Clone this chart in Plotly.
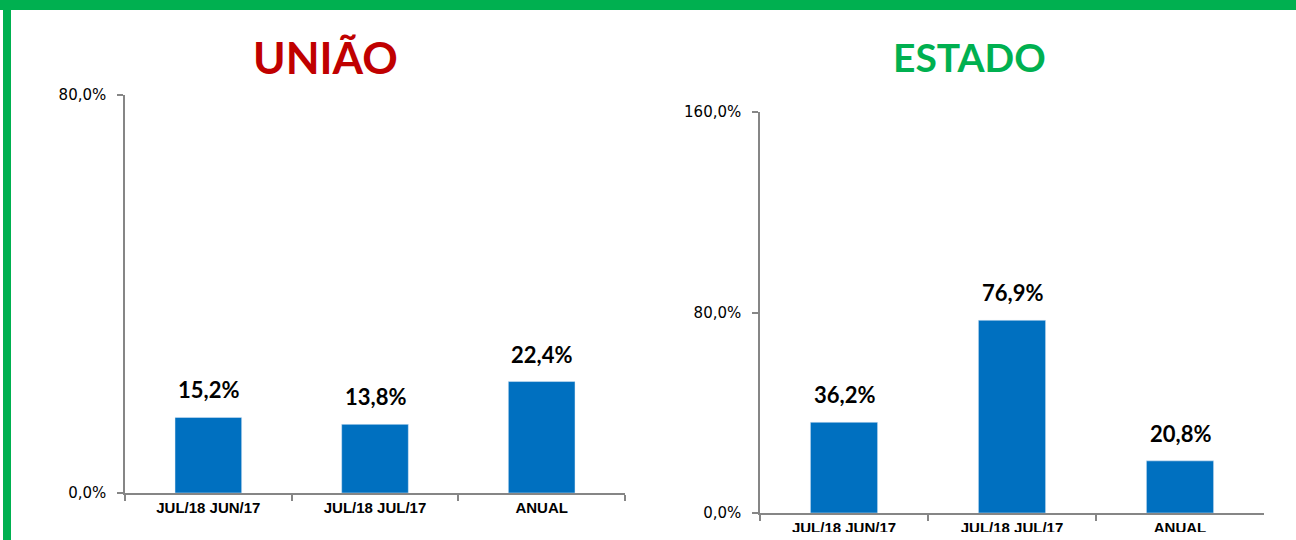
import plotly.graph_objects as go

categories = ["JUL/18 JUN/17", "JUL/18 JUL/17", "ANUAL"]
uniao_values = [15.2, 13.8, 22.4]
estado_values = [36.2, 76.9, 20.8]
uniao_ticks = [0, 80]
estado_ticks = [0, 80, 160]

BAR = "#0070C0"
AXIS = "#868686"
GREEN = "#00B050"
RED = "#C00000"
FONT = "Lato"

def fmt(v):
    return f"{v:.1f}".replace(".", ",") + "%"

fig = go.Figure()
fig.add_trace(go.Bar(x=categories, y=uniao_values, marker_color=BAR, width=0.4,
                     xaxis="x", yaxis="y", showlegend=False, hoverinfo="skip"))
fig.add_trace(go.Bar(x=categories, y=estado_values, marker_color=BAR, width=0.4,
                     xaxis="x2", yaxis="y2", showlegend=False, hoverinfo="skip"))

annotations = []
for c, v in zip(categories, uniao_values):
    annotations.append(dict(x=c, y=v, xref="x", yref="y", text=fmt(v), showarrow=False,
                            yanchor="bottom", yshift=12,
                            font=dict(family=FONT, size=22, color="#000000", weight="bold")))
for c, v in zip(categories, estado_values):
    annotations.append(dict(x=c, y=v, xref="x2", yref="y2", text=fmt(v), showarrow=False,
                            yanchor="bottom", yshift=12,
                            font=dict(family=FONT, size=22, color="#000000", weight="bold")))

annotations.append(dict(x=325/1296, y=(540-57)/540, xref="paper", yref="paper", text="UNIÃO",
                        showarrow=False, xanchor="center", yanchor="middle",
                        font=dict(family=FONT, size=44, color=RED, weight="bold")))
annotations.append(dict(x=969/1296, y=(540-57)/540, xref="paper", yref="paper", text="ESTADO",
                        showarrow=False, xanchor="center", yanchor="middle",
                        font=dict(family=FONT, size=39, color=GREEN, weight="bold")))
annotations.append(dict(x=660/1296, y=1, xref="paper", yref="paper", text="EM %",
                        showarrow=False, xanchor="center", yanchor="bottom", yshift=-6,
                        font=dict(family=FONT, size=18, color="#000000", weight="bold")))

xaxis_common = dict(type="category", showline=True, linecolor=AXIS, linewidth=1.5,
                    ticks="outside", tickson="boundaries", ticklen=6, tickcolor=AXIS,
                    tickwidth=1.5, showgrid=False, zeroline=False, automargin=False,
                    tickfont=dict(family="Liberation Sans", size=15, color="#000000", weight="bold"))
yaxis_common = dict(showline=True, linecolor=AXIS, linewidth=1.5, ticks="outside",
                    ticklen=6, tickcolor=AXIS, tickwidth=1.5, showgrid=False, zeroline=False,
                    ticklabelstandoff=8, automargin=False,
                    tickfont=dict(family="DejaVu Sans", size=15, color="#000000"))

fig.update_layout(
    width=1296, height=540,
    margin=dict(l=0, r=0, t=0, b=0, autoexpand=False),
    paper_bgcolor="white", plot_bgcolor="white",
    separators=",.",
    xaxis=dict(domain=[125/1296, 625/1296], anchor="y", **xaxis_common),
    yaxis=dict(domain=[(540-493)/540, (540-95)/540], anchor="x", range=[0, 80],
               tickvals=uniao_ticks, ticktext=[fmt(t) for t in uniao_ticks], **yaxis_common),
    xaxis2=dict(domain=[760/1296, 1264/1296], anchor="y2", **xaxis_common),
    yaxis2=dict(domain=[(540-513)/540, (540-112)/540], anchor="x2", range=[0, 160],
                tickvals=estado_ticks, ticktext=[fmt(t) for t in estado_ticks], **yaxis_common),
    annotations=annotations,
    shapes=[
        dict(type="rect", xref="paper", yref="paper", x0=0, x1=1, y0=1-10/540, y1=1,
             fillcolor=GREEN, line=dict(width=0), layer="below"),
        dict(type="rect", xref="paper", yref="paper", x0=3/1296, x1=11/1296, y0=0, y1=1,
             fillcolor=GREEN, line=dict(width=0), layer="below"),
        dict(type="rect", xref="paper", yref="paper", x0=12/1296, x1=1, y0=0, y1=8/540,
             fillcolor="white", line=dict(width=0), layer="above"),
    ],
)

fig.write_html("out.html", config={"displayModeBar": False},
               post_script="document.body.style.margin='0';document.body.style.overflow='hidden';")
